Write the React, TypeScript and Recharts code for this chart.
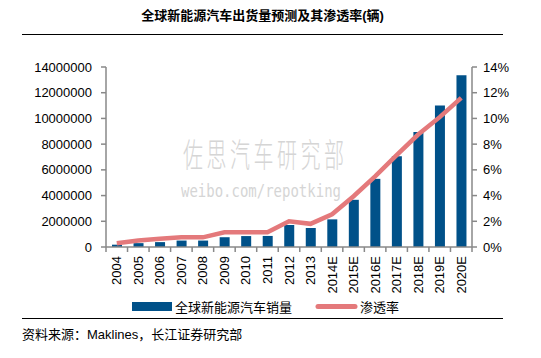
import { Bar, ComposedChart, Line, XAxis, YAxis } from 'recharts'

const years = ['2004', '2005', '2006', '2007', '2008', '2009', '2010', '2011', '2012', '2013', '2014E', '2015E', '2016E', '2017E', '2018E', '2019E', '2020E']
const sales = [180000, 300000, 380000, 500000, 500000, 760000, 850000, 860000, 1710000, 1480000, 2150000, 3670000, 5300000, 7050000, 8940000, 11000000, 13350000]
const penetration = [0.3, 0.5, 0.65, 0.75, 0.75, 1.15, 1.15, 1.15, 2.0, 1.8, 2.55, 3.95, 5.5, 7.15, 8.75, 10.1, 11.6]
const leftTicks = [0, 2000000, 4000000, 6000000, 8000000, 10000000, 12000000, 14000000]
const rightTicks = [0, 2, 4, 6, 8, 10, 12, 14]

const title = '全球新能源汽车出货量预测及其渗透率(辆)'
const barName = '全球新能源汽车销量'
const lineName = '渗透率'
const source = '资料来源：Maklines，长江证券研究部'

const data = years.map((year, i) => ({ year, sales: sales[i], rate: penetration[i] }))

const font = "'Liberation Sans', Arial, 'Noto Sans CJK SC', sans-serif"
const barColor = '#005189'
const lineColor = '#E4797B'
const axisColor = '#888'

const YearTick = (props: any) => {
   const { x, y, payload, index, width } = props
   const step = width / years.length
   return (
      <g>
         <line x1={ x - step / 2 } x2={ x - step / 2 } y1={ y } y2={ y + 5 } stroke={ axisColor } strokeWidth={ 1.5 } />
         { index === years.length - 1 &&
            <line x1={ x + step / 2 } x2={ x + step / 2 } y1={ y } y2={ y + 5 } stroke={ axisColor } strokeWidth={ 1.5 } /> }
         <text
            transform={ `translate(${x},${y + 9}) rotate(-90)` }
            textAnchor='end'
            dy={ 4.5 }
            fontSize={ 13 }
            fontFamily={ font }
            fill='#000'
         >
            { payload.value }
         </text>
      </g>
   )
}

export default function App() {
   return (
      <div style={{ position: 'absolute', left: 0, top: 0, width: 541, height: 358, background: '#fff' }}>
         <div style={{ position: 'absolute', left: 0, top: 0 }}>
            <ComposedChart width={ 541 } height={ 300 } data={ data } margin={{ top: 67, right: 0, left: 0, bottom: 0 }}>
               <XAxis
                  dataKey='year'
                  height={ 53 }
                  interval={ 0 }
                  tickSize={ 0 }
                  tickMargin={ 0 }
                  tickLine={ false }
                  axisLine={{ stroke: axisColor, strokeWidth: 1.5 }}
                  tick={ <YearTick /> }
               />
               <YAxis
                  yAxisId='left'
                  width={ 106 }
                  domain={ [0, 14000000] }
                  ticks={ leftTicks }
                  interval={ 0 }
                  tickSize={ 5 }
                  tickMargin={ 9 }
                  stroke={ axisColor }
                  axisLine={{ stroke: axisColor, strokeWidth: 1.5 }}
                  tickLine={{ stroke: axisColor, strokeWidth: 1.5 }}
                  tick={{ fontSize: 13, fill: '#000', fontFamily: font }}
               />
               <YAxis
                  yAxisId='right'
                  orientation='right'
                  width={ 69 }
                  domain={ [0, 14] }
                  ticks={ rightTicks }
                  interval={ 0 }
                  tickSize={ 5 }
                  tickMargin={ 6 }
                  stroke={ axisColor }
                  axisLine={{ stroke: axisColor, strokeWidth: 1.5 }}
                  tickLine={{ stroke: axisColor, strokeWidth: 1.5 }}
                  tickFormatter={ (v: number) => `${v}%` }
                  tick={{ fontSize: 13, fill: '#000', fontFamily: font }}
               />
               <Bar yAxisId='left' dataKey='sales' name={ barName } fill={ barColor } barSize={ 10 } isAnimationActive={ false } />
               <Line
                  yAxisId='right'
                  type='linear'
                  dataKey='rate'
                  name={ lineName }
                  stroke={ lineColor }
                  strokeWidth={ 4.5 }
                  dot={ false }
                  activeDot={ false }
                  isAnimationActive={ false }
               />
            </ComposedChart>
         </div>

         <svg width={ 541 } height={ 358 } style={{ position: 'absolute', left: 0, top: 0, pointerEvents: 'none' }}>
            <text x={ 262.5 } y={ 20 } textAnchor='middle' fontSize={ 13 } fontWeight='bold' fontFamily={ font } fill='#000'>{ title }</text>
            <line x1={ 22 } x2={ 503 } y1={ 34.5 } y2={ 34.5 } stroke='#000' strokeWidth={ 1 } />

            {/* watermark */}
            <g opacity={ 0.7 }>
               <text transform='translate(183,167) scale(1,1.65)' fontSize={ 20 } letterSpacing={ 3.5 } fontWeight={ 300 } fontFamily="'Noto Sans CJK SC', sans-serif" fill='#c4c4c4'>佐思汽车研究部</text>
               <text transform='translate(181,197) scale(1,1.3)' fontSize={ 14 } fontFamily="'DejaVu Sans Mono', monospace" fill='#c4c4c4'>weibo.com/repotking</text>
            </g>

            {/* legend */}
            <rect x={ 132 } y={ 302 } width={ 40 } height={ 9 } fill={ barColor } />
            <text x={ 175 } y={ 312 } fontSize={ 13 } fontFamily={ font } fill='#000'>{ barName }</text>
            <line x1={ 318 } x2={ 355 } y1={ 306.5 } y2={ 306.5 } stroke={ lineColor } strokeWidth={ 5 } strokeLinecap='round' />
            <text x={ 360 } y={ 312 } fontSize={ 13 } fontFamily={ font } fill='#000'>{ lineName }</text>

            <line x1={ 22 } x2={ 503 } y1={ 318.5 } y2={ 318.5 } stroke='#000' strokeWidth={ 1 } />
            <text x={ 22 } y={ 339 } fontSize={ 13 } fontFamily={ font } fill='#000'>{ source }</text>
         </svg>
      </div>
   )
}
